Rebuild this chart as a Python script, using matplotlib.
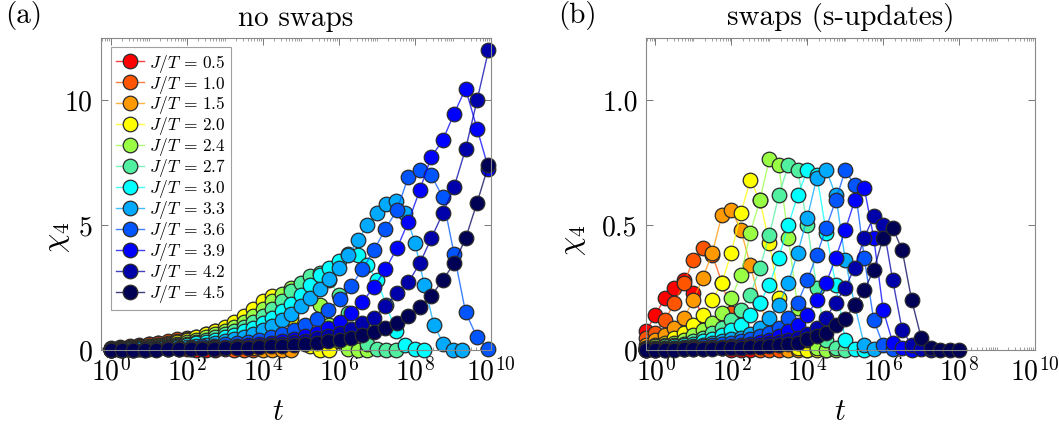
import numpy as np
import matplotlib
matplotlib.use('Agg')
import matplotlib.pyplot as plt
from matplotlib.ticker import FixedLocator, LogLocator, NullFormatter

plt.rcParams['font.family'] = 'serif'
plt.rcParams['font.serif'] = ['cmr10']
plt.rcParams['mathtext.fontset'] = 'cm'
plt.rcParams['axes.unicode_minus'] = False

# J/T values and colours (jet-like)
jt_labels = ['0.5', '1.0', '1.5', '2.0', '2.4', '2.7', '3.0', '3.3', '3.6', '3.9', '4.2', '4.5']
colors = ['#ff0000', '#ff5500', '#ff9900', '#ffff00', '#99ff44', '#50f0a0',
          '#00ffff', '#00aaff', '#0055ff', '#0000ff', '#0000aa', '#000055']

# time grids: log10(t)
logt_fine = [0.25 * i for i in range(41)]          # (a), J/T <= 3.3
logt_pow2 = [k * np.log10(2) for k in range(34)]   # (a), J/T >= 3.6 (t = 2^k)
logt_swap = [-0.25 + 0.25 * j for j in range(34)]  # (b)

# (a) no swaps
chi4_noswap = [
    [0.08, 0.12, 0.17, 0.22, 0.26, 0.28, 0.24, 0.15, 0.06, 0.01, 0.0, 0.0],
    [0.06, 0.09, 0.13, 0.18, 0.24, 0.30, 0.37, 0.44, 0.50, 0.45, 0.30, 0.12, 0.03, 0.0, 0.0, 0.0],
    [0.05, 0.07, 0.10, 0.13, 0.17, 0.22, 0.28, 0.35, 0.43, 0.52, 0.63, 0.75, 0.82, 0.65, 0.35,
     0.10, 0.02, 0.0, 0.0, 0.0],
    [0.05, 0.07, 0.09, 0.12, 0.16, 0.20, 0.26, 0.33, 0.41, 0.51, 0.63, 0.77, 0.94, 1.14, 1.38,
     1.65, 1.95, 2.15, 1.90, 1.30, 0.60, 0.15, 0.02, 0.0],
    [0.04, 0.05, 0.07, 0.09, 0.12, 0.16, 0.20, 0.26, 0.33, 0.41, 0.51, 0.63, 0.77, 0.94, 1.14,
     1.38, 1.65, 1.95, 2.25, 2.50, 2.65, 2.40, 1.80, 1.00, 0.35, 0.06, 0.0, 0.0],
    [0.03, 0.04, 0.05, 0.07, 0.09, 0.12, 0.16, 0.20, 0.26, 0.33, 0.41, 0.51, 0.63, 0.77, 0.94,
     1.14, 1.38, 1.66, 1.98, 2.35, 2.70, 2.95, 3.10, 2.80, 2.20, 1.50, 0.80, 0.25, 0.04, 0.0, 0.0],
    [0.02, 0.03, 0.04, 0.06, 0.08, 0.10, 0.13, 0.17, 0.22, 0.27, 0.34, 0.42, 0.51, 0.62, 0.75,
     0.90, 1.08, 1.30, 1.55, 1.85, 2.20, 2.60, 3.00, 3.30, 3.55, 3.85, 3.80, 3.40, 2.80, 1.80,
     0.75, 0.20, 0.04, 0.0],
    [0.015, 0.02, 0.03, 0.04, 0.05, 0.07, 0.09, 0.11, 0.14, 0.18, 0.22, 0.28, 0.35, 0.43, 0.53,
     0.65, 0.80, 0.98, 1.20, 1.45, 1.75, 2.10, 2.45, 2.85, 3.30, 3.80, 4.40, 5.00, 5.50, 5.85,
     5.95, 5.50, 4.30, 2.60, 1.00, 0.25, 0.02, 0.0],
    [0.02, 0.03, 0.04, 0.05, 0.06, 0.08, 0.10, 0.12, 0.15, 0.18, 0.23, 0.28, 0.34, 0.42, 0.52,
     0.64, 0.80, 1.00, 1.25, 1.60, 2.03, 2.56, 3.23, 4.00, 4.85, 5.60, 6.93, 7.23, 7.00, 6.13,
     3.84, 1.51, 0.51, 0.03],
    [0.01, 0.02, 0.02, 0.03, 0.04, 0.05, 0.06, 0.07, 0.09, 0.11, 0.14, 0.17, 0.20, 0.25, 0.30,
     0.37, 0.45, 0.56, 0.70, 0.88, 1.13, 1.49, 1.93, 2.53, 3.23, 4.07, 5.13, 6.40, 7.73, 8.40,
     9.47, 10.47, 8.87, 7.27],
    [0.01, 0.01, 0.015, 0.02, 0.025, 0.03, 0.04, 0.05, 0.065, 0.08, 0.10, 0.12, 0.14, 0.17, 0.21,
     0.26, 0.31, 0.38, 0.47, 0.57, 0.70, 0.86, 1.07, 1.30, 1.77, 2.27, 2.71, 3.47, 4.47, 5.47,
     6.53, 8.05, 10.0, 12.0],
    [0.005, 0.01, 0.01, 0.015, 0.02, 0.025, 0.03, 0.04, 0.05, 0.06, 0.07, 0.08, 0.10, 0.12, 0.15,
     0.18, 0.21, 0.25, 0.30, 0.35, 0.42, 0.50, 0.60, 0.73, 0.90, 1.07, 1.37, 1.73, 2.17, 2.80,
     3.47, 4.47, 5.90, 7.40],
]

# (b) swaps (s-updates)
chi4_swap = [
    [0.076, 0.14, 0.21, 0.25, 0.28, 0.23, 0.12, 0.04, 0.01, 0.0, 0.0, 0.0],
    [0.05, 0.07, 0.12, 0.19, 0.27, 0.36, 0.41, 0.38, 0.27, 0.15, 0.06, 0.02, 0.0, 0.0, 0.0],
    [0.02, 0.04, 0.06, 0.09, 0.13, 0.20, 0.29, 0.39, 0.54, 0.56, 0.48, 0.34, 0.19, 0.08, 0.02,
     0.0, 0.0, 0.0],
    [0.01, 0.02, 0.03, 0.05, 0.07, 0.10, 0.14, 0.20, 0.27, 0.39, 0.55, 0.68, 0.60, 0.43, 0.21,
     0.07, 0.01, 0.0, 0.0, 0.0],
    [0.01, 0.015, 0.02, 0.03, 0.04, 0.06, 0.08, 0.11, 0.15, 0.21, 0.30, 0.47, 0.60, 0.765, 0.74,
     0.45, 0.17, 0.04, 0.01, 0.0, 0.0],
    [0.01, 0.01, 0.015, 0.02, 0.025, 0.035, 0.05, 0.07, 0.09, 0.12, 0.16, 0.22, 0.33, 0.46, 0.62,
     0.74, 0.72, 0.50, 0.25, 0.04, 0.01, 0.0],
    [0.005, 0.008, 0.01, 0.015, 0.02, 0.025, 0.035, 0.045, 0.06, 0.08, 0.10, 0.14, 0.19, 0.26,
     0.37, 0.50, 0.62, 0.72, 0.70, 0.47, 0.26, 0.04, 0.005, 0.0],
    [0.003, 0.005, 0.007, 0.01, 0.013, 0.017, 0.022, 0.028, 0.035, 0.043, 0.05, 0.065, 0.09, 0.13,
     0.18, 0.27, 0.39, 0.53, 0.69, 0.72, 0.62, 0.36, 0.18, 0.02, 0.005],
    [0.002, 0.003, 0.005, 0.007, 0.009, 0.012, 0.015, 0.02, 0.025, 0.03, 0.037, 0.045, 0.055,
     0.07, 0.09, 0.13, 0.19, 0.28, 0.38, 0.49, 0.60, 0.72, 0.66, 0.37, 0.12, 0.02, 0.005],
    [0.0, 0.002, 0.003, 0.004, 0.005, 0.007, 0.009, 0.011, 0.014, 0.017, 0.021, 0.026, 0.032,
     0.04, 0.055, 0.075, 0.10, 0.14, 0.20, 0.27, 0.37, 0.48, 0.60, 0.65, 0.45, 0.16, 0.03, 0.01,
     0.0],
    [0.0, 0.001, 0.002, 0.003, 0.004, 0.005, 0.006, 0.008, 0.01, 0.012, 0.015, 0.018, 0.022,
     0.027, 0.033, 0.04, 0.05, 0.065, 0.09, 0.13, 0.19, 0.25, 0.33, 0.45, 0.535, 0.50, 0.28, 0.08,
     0.02, 0.005, 0.0],
    [0.0, 0.0, 0.001, 0.002, 0.003, 0.004, 0.005, 0.006, 0.007, 0.008, 0.01, 0.012, 0.014, 0.017,
     0.02, 0.025, 0.03, 0.045, 0.055, 0.07, 0.10, 0.125, 0.18, 0.24, 0.32, 0.45, 0.49, 0.40, 0.20,
     0.05, 0.01, 0.0, 0.0, 0.0],
]

fig = plt.figure(figsize=(10.59, 4.33), dpi=100)
ax_a = fig.add_axes([101 / 1059, 83 / 433, 390 / 1059, 312 / 433])
ax_b = fig.add_axes([646 / 1059, 83 / 433, 389 / 1059, 312 / 433])


def draw_series(ax, logt, y, c, label=None):
    t = 10.0 ** np.array(logt[:len(y)])
    line_rgba = matplotlib.colors.to_rgba(c, 0.75)
    ax.plot(t, y, '-o', color=line_rgba, lw=1.0, ms=10.5, mfc=c, mec='#2a2a2a',
            mew=0.9, clip_on=False, label=label)


for i, (y, c) in enumerate(zip(chi4_noswap, colors)):
    grid = logt_fine if i < 8 else logt_pow2
    draw_series(ax_a, grid, y, c, label=r'$J/T\,=\,%s$' % jt_labels[i])

for y, c in zip(chi4_swap, colors):
    draw_series(ax_b, logt_swap, y, c)

for ax, ymax, yt, ytl in [(ax_a, 12.5, [0, 5, 10], ['0', '5', '10']),
                          (ax_b, 1.25, [0, 0.5, 1.0], ['0', '0.5', '1.0'])]:
    ax.set_xscale('log')
    ax.set_xlim(10 ** -0.25, 1e10)
    ax.set_ylim(0, ymax)
    ax.xaxis.set_major_locator(FixedLocator([10.0 ** k for k in range(0, 11, 2)]))
    ax.set_xticklabels([r'$10^{%d}$' % k for k in range(0, 11, 2)])
    ax.xaxis.set_minor_locator(LogLocator(base=10, subs=np.arange(1, 10), numticks=30))
    ax.xaxis.set_minor_formatter(NullFormatter())
    ax.set_yticks(yt)
    ax.set_yticklabels(ytl)
    ax.tick_params(which='both', direction='in', top=True, right=True, color='#777777',
                   labelsize=20, pad=6)
    ax.tick_params(which='major', length=5, width=0.7)
    ax.tick_params(which='minor', length=2.5, width=0.5)
    for sp in ax.spines.values():
        sp.set_color('#888888')
        sp.set_linewidth(0.8)
    ax.set_ylabel(r'$\chi_4$', fontsize=22)
    ax.set_xlabel(r'$t$', fontsize=22)

ax_a.yaxis.set_label_coords(-0.075, 0.36)
ax_b.yaxis.set_label_coords(-0.15, 0.35)
ax_a.xaxis.set_label_coords(0.454, -0.155)
ax_b.xaxis.set_label_coords(0.5, -0.155)

ax_a.set_title('no swaps', fontsize=21, pad=9)
ax_b.set_title('swaps (s-updates)', fontsize=21, pad=9)
fig.text(0.005, 0.965, '(a)', fontsize=21, va='center', ha='left')
fig.text(0.527, 0.965, '(b)', fontsize=21, va='center', ha='left')

leg = ax_a.legend(loc='upper left', bbox_to_anchor=(0.025, 0.97), fontsize=12.5,
                  frameon=True, fancybox=False, edgecolor='#888888', labelspacing=-0.06,
                  handlelength=1.6, handletextpad=0.3, borderpad=0.3, borderaxespad=0.0)
leg.get_frame().set_linewidth(0.8)

fig.savefig('out.png', dpi=100, facecolor='white')
